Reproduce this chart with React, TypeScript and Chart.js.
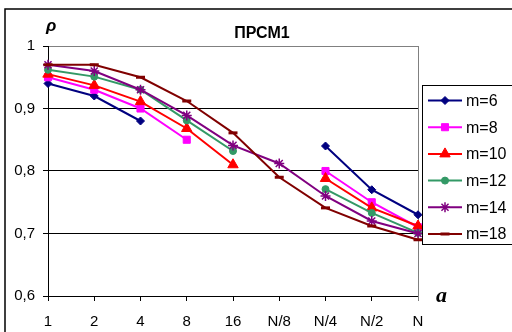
import React, { useEffect, useRef } from 'react';
import { Chart, registerables, PointElement } from 'chart.js';

Chart.register(...registerables);

const categories = ['1', '2', '4', '8', '16', 'N/8', 'N/4', 'N/2', 'N'];
const seriesNames = ['m=6', 'm=8', 'm=10', 'm=12', 'm=14', 'm=18'];
const m6 = [0.94, 0.92, 0.88, null, null, null, 0.84, 0.77, 0.73];
const m8 = [0.95, 0.93, 0.9, 0.85, null, null, 0.8, 0.75, 0.71];
const m10 = [0.955, 0.937, 0.911, 0.868, 0.81, null, 0.788, 0.741, 0.712];
const m12 = [0.962, 0.951, 0.93, 0.881, 0.832, null, 0.771, 0.733, 0.701];
const m14 = [0.97, 0.96, 0.93, 0.889, 0.841, 0.812, 0.76, 0.72, 0.7];
const m18 = [0.97, 0.97, 0.95, 0.912, 0.861, 0.79, 0.741, 0.712, 0.69];
const yMin = 0.6;
const yMax = 1;
const yStep = 0.1;
const titleText = 'ПРСМ1';
const yAxisLabel = 'ρ';
const xAxisLabel = 'a';

const seriesData = [m6, m8, m10, m12, m14, m18];
const colors = ['#000080', '#FF00FF', '#FF0000', '#339966', '#800080', '#800000'];
const pointStyles = ['rectRot', 'rect', 'triangle', 'circle', 'star', 'line'];
const pointRadii = [4, 5, 6, 3.5, 5, 4.5];
const pointBorderWidths = [1, 1, 1, 1, 1.5, 3];

const FONT = 'Arial, "Liberation Sans", sans-serif';

const decorPlugin = {
  id: 'decor',
  beforeDraw(chart: any) {
    const ctx = chart.ctx;
    ctx.save();
    ctx.fillStyle = '#fff';
    ctx.fillRect(0, 0, chart.width, chart.height);
    ctx.restore();
  },
  beforeDatasetsDraw(chart: any) {
    const ctx = chart.ctx;
    const { right, top, bottom } = chart.chartArea;
    ctx.save();
    ctx.strokeStyle = '#808080';
    ctx.lineWidth = 1;
    ctx.beginPath();
    ctx.moveTo(Math.round(right) + 0.5, top);
    ctx.lineTo(Math.round(right) + 0.5, bottom + 5);
    ctx.stroke();
    ctx.restore();
  },
  afterDraw(chart: any) {
    const ctx = chart.ctx;
    ctx.save();
    // outer chart border
    ctx.strokeStyle = '#000';
    ctx.lineWidth = 1.5;
    ctx.strokeRect(5, 9, 700, 500);

    // title
    ctx.fillStyle = '#000';
    ctx.font = 'bold 16px ' + FONT;
    ctx.textAlign = 'center';
    ctx.textBaseline = 'alphabetic';
    ctx.fillText(titleText, 262, 38);

    // axis labels
    ctx.textAlign = 'left';
    ctx.font = 'bold italic 17px ' + FONT;
    ctx.fillText(yAxisLabel, 46, 31);
    ctx.font = 'bold italic 22px "Liberation Serif", "Times New Roman", serif';
    ctx.fillText(xAxisLabel, 436, 302);

    // legend
    ctx.fillStyle = '#fff';
    ctx.fillRect(422.5, 85.5, 200, 159);
    ctx.strokeStyle = '#000';
    ctx.lineWidth = 1;
    ctx.strokeRect(422.5, 85.5, 200, 159);
    const area = { left: 0, top: 0, right: 2000, bottom: 2000 };
    seriesNames.forEach((name, i) => {
      const y = 100.5 + i * 26.7;
      ctx.strokeStyle = colors[i];
      ctx.lineWidth = 2;
      ctx.beginPath();
      ctx.moveTo(428, y);
      ctx.lineTo(462, y);
      ctx.stroke();
      const pt: any = new (PointElement as any)({
        x: 445,
        y,
        options: {
          pointStyle: pointStyles[i],
          radius: pointRadii[i],
          borderWidth: pointBorderWidths[i],
          borderColor: colors[i],
          backgroundColor: colors[i],
          rotation: 0,
        },
      });
      pt.draw(ctx, area);
      ctx.fillStyle = '#000';
      ctx.font = '16px ' + FONT;
      ctx.textAlign = 'left';
      ctx.textBaseline = 'middle';
      ctx.fillText(name, 466, y + 1);
    });
    ctx.restore();
  },
};

export default function App() {
  const canvasRef = useRef<HTMLCanvasElement | null>(null);

  useEffect(() => {
    document.body.style.margin = '0';
    const canvas = canvasRef.current;
    if (!canvas) return;
    const chart = new Chart(canvas, {
      type: 'line',
      data: {
        labels: categories,
        datasets: seriesData.map((d, i) => ({
          label: seriesNames[i],
          data: d,
          borderColor: colors[i],
          backgroundColor: colors[i],
          borderWidth: 2,
          pointStyle: pointStyles[i] as any,
          pointRadius: pointRadii[i],
          pointBorderWidth: pointBorderWidths[i],
          pointBackgroundColor: colors[i],
          pointBorderColor: colors[i],
          spanGaps: false,
          tension: 0,
          order: seriesData.length - i,
          clip: false as any,
        })),
      },
      options: {
        responsive: false,
        animation: false,
        devicePixelRatio: 1,
        layout: { padding: { left: 0, top: 46, right: 94, bottom: 0 } },
        plugins: {
          legend: { display: false },
          title: { display: false },
          tooltip: { enabled: false },
        },
        scales: {
          x: {
            type: 'category',
            offset: false,
            grid: {
              display: true,
              drawOnChartArea: false,
              drawTicks: true,
              tickLength: 5,
              tickColor: '#000',
            },
            border: { display: true, color: '#000', width: 1 },
            ticks: {
              color: '#000',
              font: { family: FONT, size: 15 },
              padding: 12,
              maxRotation: 0,
              autoSkip: false,
            },
            afterFit: (s: any) => {
              s.height = 36;
            },
          },
          y: {
            min: yMin,
            max: yMax,
            ticks: {
              stepSize: yStep,
              color: '#000',
              font: { family: FONT, size: 15 },
              padding: 8,
              callback: (v: any) => {
                const r = Math.round(Number(v) * 10) / 10;
                return r === 1 ? '1' : r.toFixed(1).replace('.', ',');
              },
            },
            grid: {
              color: (c: any) => (c.tick && c.tick.value > 0.999 ? '#808080' : '#000'),
              tickColor: '#000',
              tickLength: 5,
            },
            border: { display: true, color: '#000', width: 1 },
            afterFit: (s: any) => {
              s.width = 48;
            },
          },
        },
      },
      plugins: [decorPlugin],
    });
    return () => chart.destroy();
  }, []);

  return (
    <div style={{ width: 512, height: 332 }}>
      <canvas ref={canvasRef} width={512} height={332} style={{ display: 'block', width: 512, height: 332 }} />
    </div>
  );
}
